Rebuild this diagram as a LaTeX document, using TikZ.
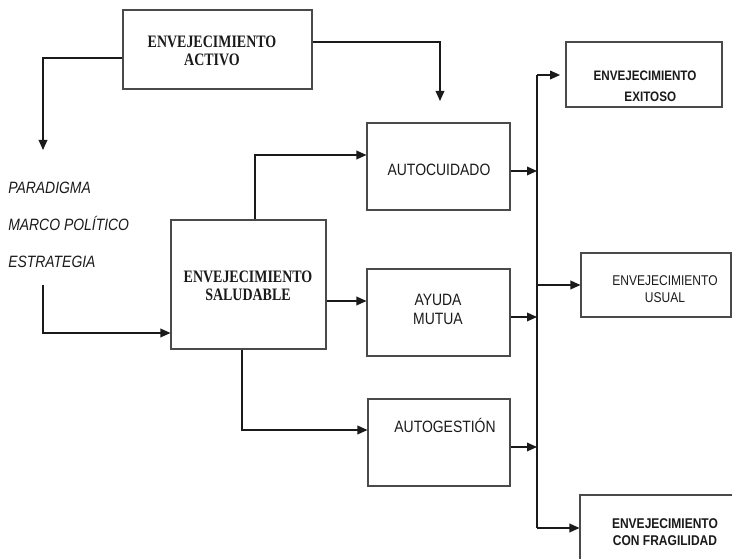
\documentclass[tikz,border=0pt]{standalone}
\usepackage{fontspec}
\setmainfont{Liberation Serif}
\newfontfamily\arialn[FakeStretch=0.85]{Liberation Sans}
\newfontfamily\timesn[FakeStretch=0.8]{Liberation Serif}
\usetikzlibrary{arrows.meta,fit}
\definecolor{linec}{HTML}{1A1A1A}
\definecolor{boxc}{HTML}{4A4A4A}
\definecolor{textc}{HTML}{1A1A1A}
\begin{document}
\begin{tikzpicture}[x=0.75pt,y=-0.75pt,
  box/.style={draw=boxc, line width=0.8pt, inner sep=0pt},
  conn/.style={draw=linec, line width=1pt},
  arr/.style={conn,-{Triangle[length=7.5pt,width=6.5pt]}},
  serifb/.style={font=\timesn\fontsize{13.1}{13.8}\selectfont\bfseries, align=center, text=textc, inner sep=0pt},
  sansr/.style={font=\arialn\fontsize{12.3}{14.2}\selectfont, align=center, text=textc, inner sep=0pt},
  sansi/.style={font=\arialn\itshape\fontsize{12.3}{12}\selectfont, text=textc, inner sep=0pt, anchor=base west},
  sansbs/.style={font=\arialn\bfseries\fontsize{10.3}{15.8}\selectfont, align=center, text=textc, inner sep=0pt},
  sansrs/.style={font=\arialn\fontsize{10.6}{12.8}\selectfont, align=center, text=textc, inner sep=0pt},
  sansbf/.style={font=\arialn\bfseries\fontsize{10.6}{12.8}\selectfont, align=center, text=textc, inner sep=0pt},
]
\useasboundingbox (0,0) rectangle (732,559);
\clip (0,0) rectangle (732,559);

% boxes
\node[box, fit={(123,10) (312,89)}] (act) {};
\node[box, fit={(171,220) (326,349)}] (sal) {};
\node[box, fit={(367,123) (510,210)}] (auc) {};
\node[box, fit={(367,269) (510,356)}] (ayu) {};
\node[box, fit={(368,399) (510,486)}] (gst) {};
\node[box, fit={(566,42) (722,107)}] (exi) {};
\node[box, fit={(581,253) (731,317)}] (usu) {};
\node[box, fit={(580,495) (770,600)}] (fra) {};

% texts
\node[serifb] (tact) at (212,51) {ENVEJECIMIENTO\\ACTIVO};
\node[serifb] (tsal) at (248,286) {ENVEJECIMIENTO\\SALUDABLE};
\node[sansr, anchor=base] (tauc) at (439,176) {AUTOCUIDADO};
\node[sansr] (tayu) at (438,309) {AYUDA\\MUTUA};
\node[sansr, anchor=base] (tgst) at (445,433) {AUTOGESTIÓN};
\node[sansbs] (texi) at (645,86.5) {ENVEJECIMIENTO\\\hspace*{8pt}EXITOSO};
\node[sansrs] (tusu) at (665,289) {ENVEJECIMIENTO\\USUAL};
\node[sansbf] (tfra) at (665,532) {ENVEJECIMIENTO\\CON FRAGILIDAD};
\node[sansi] (tpar) at (8,194) {PARADIGMA};
\node[sansi] (tmar) at (8,231) {MARCO POLÍTICO};
\node[sansi] (test) at (8,268) {ESTRATEGIA};

% free ends
\coordinate (pdn) at (43,150);
\coordinate (adn) at (440,101);
\coordinate (est0) at (43,285);
\coordinate (bt) at (537,75);
\coordinate (bb) at (537,528);

% connectors
\draw[arr] (act.west |- 0,58) -- (43,58) -- (pdn);
\draw[arr] (act.east |- 0,42) -- (440,42) -- (adn);
\draw[arr] (est0) -- (43,333) -- (sal.west |- 0,333);
\draw[arr] (sal.north -| 255,0) -- (255,155) -- (auc.west |- 0,155);
\draw[arr] (sal.east |- 0,301) -- (ayu.west |- 0,301);
\draw[arr] (sal.south -| 242,0) -- (242,430) -- (gst.west |- 0,430);

\draw[conn] (bb) -- (bt);
\draw[arr] (auc.east |- 0,171) -- (bt |- 0,171);
\draw[arr] (ayu.east |- 0,317) -- (bt |- 0,317);
\draw[arr] (gst.east |- 0,447) -- (bt |- 0,447);
\draw[arr, shorten >=4pt] (bt) -- (exi.west |- bt);
\draw[arr] (bt |- 0,285) -- (usu.west |- 0,285);
\draw[arr] (bb) -- (fra.west |- bb);
\end{tikzpicture}
\end{document}
